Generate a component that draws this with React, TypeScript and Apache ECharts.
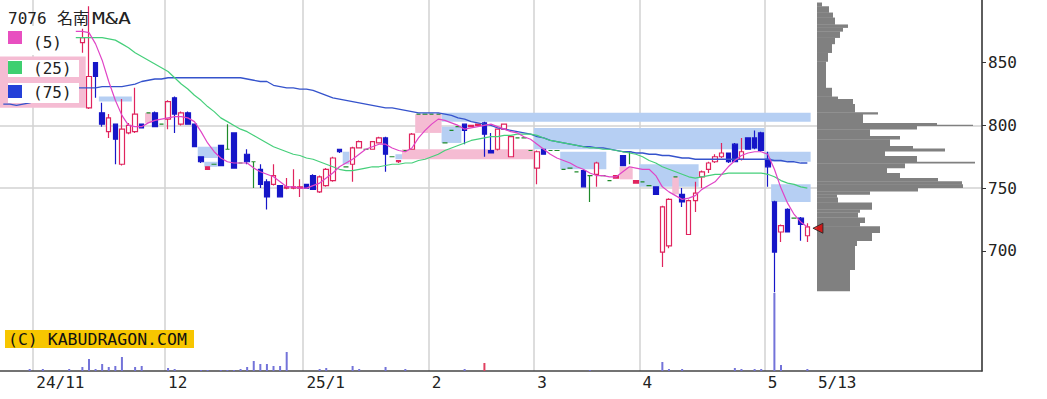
import React, { useEffect, useRef } from "react";
import * as echarts from "echarts";

// ---------- layout of the time axis ----------
const TOTAL_SLOTS = 149; // trading-day slots across the plot (data + empty right part)
const categories = Array.from({ length: TOTAL_SLOTS }, (_, i) => String(i));
const monthTickIdx = [5, 25, 46, 65, 81, 97, 116];
const monthTickLabels = ["24/11", "12", "25/1", "2", "3", "4", "5"];
const lastDateIdx = 123;
const lastDateLabel = "5/13";
const priceTicks = [700, 750, 800, 850];

// ---------- daily candles (index 0..122); null = hidden / no candle ----------
const opens = [
  874, 877, 876, 874, 877, 875, 878, 876, 875, 877, null, null, 866, 814, 850, 810, 795, 801, 769, 794,
  795, 801, 810, 810, 801, 805, 822, 801, 810, 801, 775, 765, 769, 784, 781, 794, 770, 777, 771, 765,
  755, 753, 752, 750, 750, 750, 753, 760, 747, 752, 756, 781, 767, 769, 782, 781, 781, 786, 790, 775,
  771, 780, 781, 809, 809, 809, 809, 786, 796, 799, 801, 799, 800, 802, 780, 781, 797, 775, 790, 790,
  780, 766, 781, 780, 780, 765, 766, 763, 764, 760, 761, 760, 756, 758, 776, 779, 754, 755, 752, 751,
  699, 704, 759, 745, 713, 740, 759, 765, 771, 775, 778, 785, 773, 790, 790, 794, 773, 739, 715, 733,
  726, 726, 712,
];
const closes = [
  877, 876, 874, 877, 875, 878, 876, 875, 877, 876, null, null, 870, 839, 839, 801, 806, 789, 797, 800,
  809, 798, 810, 799, 801, 819, 809, 810, 801, 783, 771, 767, 769, 768, 781, 766, 770, 771, 771, 753,
  743, 760, 743, 751, 751, 751, 750, 749, 759, 765, 774, 779, 767, 782, 787, 781, 787, 790, 777, 775,
  772, 780, 793, 809, 809, 809, 809, 786, 796, 799, 796, 800, 801, 793, 778, 797, 801, 791, 790, 790,
  780, 779, 777, 780, 780, 765, 766, 763, 751, 760, 770, 760, 756, 760, 768, 779, 756, 755, 752, 745,
  735, 741, 759, 739, 740, 746, 763, 770, 775, 778, 771, 771, 779, 781, 782, 780, 767, 699, 720, 715,
  726, 721, 719,
];
const lows = [
  872, 874, 871, 873, 872, 874, 873, 872, 873, 872, null, null, 858, 813, 822, 799, 790, 769, 768, 793,
  794, 798, 810, 799, 801, 797, 794, 800, 801, 783, 770, 765, 769, 768, 781, 766, 770, 769, 750, 750,
  733, 752, 743, 749, 749, 743, 750, 749, 746, 751, 755, 778, 767, 755, 782, 781, 781, 786, 763, 775,
  770, 780, 781, 809, 809, 809, 809, 786, 796, 799, 785, 799, 800, 775, 778, 780, 797, 775, 790, 790,
  780, 753, 777, 780, 780, 765, 766, 763, 751, 739, 751, 760, 756, 758, 768, 769, 754, 755, 752, 745,
  687, 702, 759, 735, 713, 731, 750, 762, 770, 774, 770, 771, 772, 781, 781, 779, 751, 667, 707, 715,
  726, 708, 707,
];
const highs = [
  879, 879, 878, 879, 878, 879, 879, 878, 878, 878, null, null, 877, 895, 850, 818, 809, 801, 821, 802,
  830, 801, 810, 811, 801, 820, 823, 811, 811, 801, 775, 767, 769, 784, 801, 794, 770, 781, 771, 769,
  757, 769, 752, 758, 765, 757, 753, 761, 760, 766, 775, 781, 767, 783, 788, 781, 787, 791, 791, 775,
  772, 780, 794, 809, 809, 809, 809, 786, 796, 799, 801, 800, 801, 803, 794, 797, 801, 791, 790, 790,
  780, 780, 781, 780, 780, 765, 766, 763, 765, 760, 771, 760, 756, 760, 776, 779, 756, 755, 752, 751,
  736, 742, 759, 750, 741, 755, 764, 771, 777, 786, 778, 786, 790, 790, 796, 795, 779, 740, 721, 734,
  726, 727, 722,
];
// days drawn as green dashes (no trade / unchanged)
const greenIdx = [22, 24, 32, 34, 36, 38, 52, 55, 59, 61, 63, 64, 65, 66, 67, 68, 69, 78, 79, 80, 83, 84, 85, 86, 87, 89, 91, 92, 95, 97, 98, 102, 120];
// small up days drawn filled
const filledRedIdx = [31, 60, 93, 96];

// ---------- moving averages ----------
const ma5 = [
  null, null, null, null, null, null, null, null, null, null, null, 875, 875, 874, 865, 852, 835, 820, 808, 800,
  799, 799, 802, 804, 805, 806, 807, 807, 806, 803, 795, 786, 779, 774, 771, 770, 770, 770, 766, 763,
  761, 759, 755, 751, 751, 750, 750, 752, 754, 758, 762, 767, 770, 773, 777, 781, 783, 785, 785, 782,
  780, 779, 782, 790, 796, 801, 805, 804, 802, 800, 797, 798, 799, 800, 801, 799, 797, 795, 794, 791,
  789, 785, 781, 777, 774, 772, 770, 767, 765, 762, 760, 760, 759, 759, 763, 767, 766, 765, 765, 760,
  751, 747, 744, 741, 742, 744, 749, 752, 755, 761, 767, 772, 776, 778, 779, 779, 777, 765, 750, 738,
  729, 723, 719,
];
const ma25 = [
  null, null, null, null, null, null, null, null, null, null, null, 870, 870, 870, 870, 870, 869, 868, 865, 862,
  858, 855, 852, 849, 846, 843, 838, 833, 829, 824, 820, 815, 811, 806, 803, 800, 797, 795, 792, 789,
  786, 783, 781, 779, 777, 776, 774, 773, 771, 769, 767, 765, 764, 764, 765, 766, 767, 767, 768, 769,
  769, 770, 770, 772, 773, 775, 777, 780, 782, 784, 786, 788, 789, 790, 791, 791, 792, 792, 793, 793,
  793, 792, 790, 788, 787, 786, 785, 784, 783, 782, 782, 781, 781, 780, 779, 778, 777, 775, 772, 770,
  767, 765, 763, 761, 759, 758, 759, 760, 761, 761, 762, 762, 762, 762, 762, 762, 761, 759, 756, 754,
  753, 751, 750,
];
const ma75 = [
  817, 817, 816, 817, 818, 820, 822, 824, 826, 828, 829, 830, 830, 830, 830, 831, 831, 831, 831, 832,
  833, 835, 836, 837, 837, 838, 838, 838, 838, 838, 838, 838, 838, 838, 838, 838, 838, 837, 836, 835,
  835, 832, 831, 830, 830, 829, 829, 828, 826, 824, 822, 821, 820, 819, 818, 817, 816, 815, 814, 814,
  813, 812, 811, 810, 810, 810, 810, 809, 808, 806, 805, 803, 802, 801, 800, 798, 797, 796, 795, 794,
  793, 791, 790, 788, 787, 786, 785, 784, 783, 783, 782, 782, 781, 780, 779, 779, 778, 778, 777, 777,
  776, 776, 775, 774, 774, 773, 773, 773, 773, 773, 773, 773, 773, 773, 773, 773, 773, 772, 772, 771,
  771, 770, 770,
];

// ---------- volume (day index, volume) ----------
const volIdx = [4, 6, 10, 12, 13, 14, 15, 16, 17, 18, 20, 21, 25, 26, 30, 31, 33, 34, 35, 36, 37, 38, 39, 40, 41, 42, 43, 48, 49, 53, 54, 58, 61, 70, 73, 89, 100, 101, 103, 111, 112, 114, 115, 117, 118, 122];
const volVal = [20, 20, 20, 40, 120, 20, 70, 40, 50, 140, 40, 50, 30, 20, 10, 10, 10, 10, 10, 20, 40, 100, 70, 70, 50, 50, 190, 20, 30, 50, 20, 40, 20, 20, 80, 10, 90, 20, 20, 30, 20, 20, 20, 780, 60, 20];
const volRedIdx = [73];

// ---------- price gaps (first day, last day, low, high) ----------
const blueGaps = [
  [15, 19, 819, 823], [30, 32, 774, 783], [31, 32, 767, 771], [52, 52, 769, 779], [60, 60, 773, 777],
  [67, 122, 803, 810], [67, 69, 786, 799], [81, 115, 781, 798], [116, 122, 771, 779], [85, 91, 765, 779],
  [97, 105, 751, 769], [117, 122, 739, 753],
];
const pinkGaps = [
  [0, 12, 814, 855], [22, 22, 802, 810], [63, 66, 794, 809], [61, 80, 773, 781], [94, 95, 757, 767], [102, 102, 745, 759],
];

// ---------- volume-by-price profile ----------
const profileLow = [895, 890, 886, 880.5, 878, 875, 870, 865, 858, 851, 830, 823, 821, 817, 810.5, 809, 802, 800.5, 799.7, 797, 791.5, 789, 783.5, 781.5, 779.5, 775.5, 771, 769.8, 766, 762, 758, 755.5, 753, 750.3, 747.5, 745, 742.5, 738.5, 733, 730.5, 726.5, 722.5, 719.5, 714.5, 708, 704, 685, 668];
const profileHigh = [898, 895, 890, 886, 880.5, 878, 875, 870, 865, 858, 851, 830, 823, 821, 817, 810.5, 809, 802, 800.5, 799.7, 797, 791.5, 789, 783.5, 781.5, 779.5, 775.5, 771, 769.8, 766, 762, 758, 755.5, 753, 750.3, 747.5, 745, 742.5, 738.5, 733, 730.5, 726.5, 722.5, 719.5, 714.5, 708, 704, 685];
const profileVol = [5, 12, 16, 18, 31, 26, 23, 18, 15, 11, 9, 15, 21, 36, 38, 61, 46, 120, 156, 100, 53, 83, 73, 96, 128, 68, 100, 158, 88, 70, 83, 121, 145, 146, 101, 53, 20, 21, 55, 43, 41, 48, 43, 63, 55, 40, 38, 33];
const lastPrice = 718;

const FONT = "'DejaVu Sans Mono', 'Noto Sans CJK JP', monospace";
const RED = "#e0245e";
const BLUE = "#1616c8";
const GREEN = "#1f8a2a";

function gapSeries(data: number[][], color: string) {
  return {
    type: "custom",
    xAxisIndex: 0,
    yAxisIndex: 0,
    z: 1,
    silent: true,
    data,
    renderItem: (params: any, api: any) => {
      const s = api.value(0);
      const e = api.value(1);
      const lo = api.value(2);
      const hi = api.value(3);
      const bw = api.size([1, 0])[0];
      const p0 = api.coord([s, hi]);
      const p1 = api.coord([e, lo]);
      return {
        type: "rect",
        shape: { x: p0[0] - bw / 2, y: p0[1], width: p1[0] - p0[0] + bw, height: p1[1] - p0[1] },
        style: { fill: color },
      };
    },
  };
}

export default function App() {
  const ref = useRef<HTMLDivElement>(null);
  useEffect(() => {
    const chart = echarts.init(ref.current!, null, { renderer: "svg" });

    const candleData = opens.map((o, i) => {
      if (o === null) return ["-", "-", "-", "-"];
      const v = [o, closes[i], lows[i], highs[i]];
      if (greenIdx.includes(i))
        return { value: v, itemStyle: { color: GREEN, color0: GREEN, borderColor: GREEN, borderColor0: GREEN } };
      if (filledRedIdx.includes(i))
        return { value: v, itemStyle: { color: RED, color0: RED, borderColor: RED, borderColor0: RED } };
      return v;
    });

    const volData: any[] = opens.map(() => 0);
    volIdx.forEach((idx, k) => {
      volData[idx] = volRedIdx.includes(idx)
        ? { value: volVal[k], itemStyle: { color: "#e04060" } }
        : volVal[k];
    });

    const profileData = profileVol.map((v, k) => [v, profileLow[k], profileHigh[k]]);

    const labelMap: Record<number, string> = {};
    monthTickIdx.forEach((idx, k) => (labelMap[idx] = monthTickLabels[k]));
    labelMap[lastDateIdx] = lastDateLabel;

    const option: any = {
      animation: false,
      backgroundColor: "#ffffff",
      grid: [
        { left: -2, width: 984, top: 0, height: 313.5 },
        { left: -2, width: 984, top: 0, height: 371 },
        { left: 817, width: 160, top: 0, height: 313.5 },
      ],
      xAxis: [
        { type: "category", gridIndex: 0, data: categories, show: false, boundaryGap: true },
        {
          type: "category",
          gridIndex: 1,
          data: categories,
          boundaryGap: true,
          axisLine: { show: true, lineStyle: { color: "#444", width: 1.5 } },
          axisTick: { show: false },
          splitLine: {
            show: true,
            interval: (index: number) => monthTickIdx.includes(index),
            lineStyle: { color: "#d2d2d2", width: 1.5 },
          },
          axisLabel: {
            interval: (index: number) => labelMap[index] !== undefined,
            formatter: (v: string) => {
              const i = Number(v);
              return i === lastDateIdx ? "{d|" + labelMap[i] + "}" : labelMap[i] ?? "";
            },
            rich: { d: { fontFamily: FONT, fontSize: 16, color: "#222", padding: [0, 0, 0, 4] } },
            align: "left",
            margin: 3,
            fontFamily: FONT,
            fontSize: 16,
            color: "#222",
          },
        },
        { type: "value", gridIndex: 2, min: 0, max: 160, show: false },
      ],
      yAxis: [
        {
          type: "value",
          gridIndex: 0,
          position: "right",
          min: 650,
          max: 900,
          interval: 50,
          axisLine: { show: false },
          axisTick: { show: true, length: 4, customValues: priceTicks, lineStyle: { color: "#333" } },
          axisLabel: { customValues: priceTicks, margin: 6, fontFamily: FONT, fontSize: 16, color: "#222" },
          splitLine: {
            show: true,
            showMinLine: false,
            showMaxLine: false,
            lineStyle: { color: "#d2d2d2", width: 1.5 },
          },
        },
        {
          type: "value",
          gridIndex: 1,
          position: "right",
          min: 0,
          max: 3710,
          axisLine: { show: true, lineStyle: { color: "#333", width: 1.5 } },
          axisTick: { show: false },
          axisLabel: { show: false },
          splitLine: { show: false },
        },
        { type: "value", gridIndex: 2, min: 650, max: 900, show: false },
      ],
      series: [
        gapSeries(blueGaps, "#b6cff3"),
        gapSeries(pinkGaps, "#f5bcd3"),
        {
          type: "bar",
          xAxisIndex: 1,
          yAxisIndex: 1,
          data: volData,
          barWidth: 2,
          itemStyle: { color: "#7373d9" },
          z: 2,
        },
        {
          type: "custom",
          xAxisIndex: 2,
          yAxisIndex: 2,
          z: 2,
          data: profileData,
          renderItem: (params: any, api: any) => {
            const p0 = api.coord([0, api.value(2)]);
            const p1 = api.coord([api.value(0), api.value(1)]);
            return {
              type: "rect",
              shape: { x: p0[0], y: p0[1], width: p1[0] - p0[0], height: p1[1] - p0[1] + 0.3 },
              style: { fill: "#808080" },
            };
          },
        },
        {
          type: "candlestick",
          xAxisIndex: 0,
          yAxisIndex: 0,
          data: candleData,
          barWidth: 5,
          z: 3,
          itemStyle: { color: "#ffffff", color0: BLUE, borderColor: RED, borderColor0: BLUE, borderWidth: 1.2 },
        },
        {
          type: "line",
          xAxisIndex: 0,
          yAxisIndex: 0,
          data: ma75,
          showSymbol: false,
          symbol: "none",
          z: 4,
          lineStyle: { color: "#3553cc", width: 1.3 },
        },
        {
          type: "line",
          xAxisIndex: 0,
          yAxisIndex: 0,
          data: ma25,
          showSymbol: false,
          symbol: "none",
          z: 4,
          lineStyle: { color: "#45cf7a", width: 1.2 },
        },
        {
          type: "line",
          xAxisIndex: 0,
          yAxisIndex: 0,
          data: ma5,
          showSymbol: false,
          symbol: "none",
          z: 5,
          lineStyle: { color: "#e044c6", width: 1.2 },
        },
        {
          type: "scatter",
          xAxisIndex: 0,
          yAxisIndex: 0,
          data: [[lastDateIdx, lastPrice]],
          symbol: "triangle",
          symbolRotate: 90,
          symbolSize: 10,
          symbolOffset: [4, 0],
          z: 10,
          itemStyle: { color: "#e00000", borderColor: "#222", borderWidth: 1 },
        },
      ],
      graphic: [
        { type: "rect", z: 100, shape: { x: 0, y: 26, width: 67, height: 29 }, style: { fill: "#fff" } },
        { type: "rect", z: 100, shape: { x: 8, y: 60, width: 71, height: 17 }, style: { fill: "#fff" } },
        { type: "rect", z: 100, shape: { x: 8, y: 83, width: 71, height: 20 }, style: { fill: "#fff" } },
        { type: "rect", z: 101, shape: { x: 8, y: 31, width: 14, height: 13 }, style: { fill: "#e84fc0" } },
        { type: "rect", z: 101, shape: { x: 8, y: 61, width: 14, height: 13 }, style: { fill: "#3ecf70" } },
        { type: "rect", z: 101, shape: { x: 8, y: 85, width: 14, height: 13 }, style: { fill: "#2440d8" } },
        { type: "text", z: 101, style: { text: "(5)", x: 33, y: 42, fontFamily: FONT, fontSize: 16, fill: "#222", verticalAlign: "middle" } },
        { type: "text", z: 101, style: { text: "(25)", x: 33, y: 68, fontFamily: FONT, fontSize: 16, fill: "#222", verticalAlign: "middle" } },
        { type: "text", z: 101, style: { text: "(75)", x: 33, y: 92, fontFamily: FONT, fontSize: 16, fill: "#222", verticalAlign: "middle" } },
        { type: "text", z: 101, style: { text: "7076", x: 8, y: 18, fontFamily: FONT, fontSize: 16, fill: "#222", verticalAlign: "middle" } },
        { type: "text", z: 101, style: { text: "名南", x: 57, y: 18, fontFamily: FONT, fontSize: 16, fill: "#222", verticalAlign: "middle" } },
        { type: "text", z: 101, x: 92, y: 18, scaleX: 1.35, style: { text: "M&A", x: 0, y: 0, fontFamily: FONT, fontSize: 16, fill: "#222", verticalAlign: "middle" } },
        { type: "rect", z: 100, shape: { x: 5, y: 330, width: 189, height: 18 }, style: { fill: "#f7c600" } },
        { type: "text", z: 101, style: { text: "(C) KABUDRAGON.COM", x: 8, y: 339, fontFamily: FONT, fontSize: 16.5, fill: "#111", verticalAlign: "middle" } },
      ],
    };

    chart.setOption(option);
    return () => chart.dispose();
  }, []);

  return (
    <div
      ref={ref}
      style={{ position: "absolute", left: 0, top: 0, width: 1047, height: 399, background: "#fff" }}
    />
  );
}
